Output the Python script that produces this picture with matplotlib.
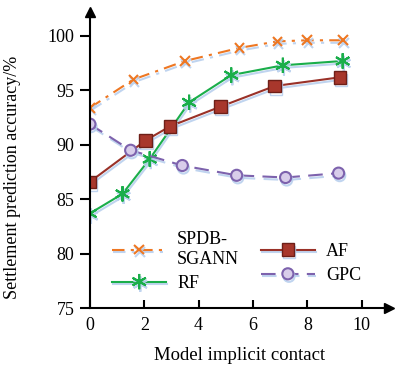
import matplotlib
matplotlib.use('Agg')
import matplotlib.pyplot as plt
import matplotlib.patheffects as pe

plt.rcParams['font.family'] = ['Liberation Serif', 'DejaVu Serif']

# data
sgann_x = [0, 1.6, 3.5, 5.5, 6.9, 8.0, 9.3]
sgann_y = [93.4, 96.0, 97.7, 98.9, 99.5, 99.6, 99.6]

rf_x = [0, 1.2, 2.2, 3.65, 5.2, 7.1, 9.3]
rf_y = [83.7, 85.5, 88.7, 93.9, 96.4, 97.3, 97.7]

af_x = [0, 2.05, 2.95, 4.8, 6.8, 9.2]
af_y = [86.6, 90.4, 91.7, 93.5, 95.4, 96.2]

gpc_x = [0, 1.5, 3.4, 5.4, 7.2, 9.15]
gpc_y = [91.9, 89.5, 88.1, 87.2, 87.0, 87.4]

x_ticks = [0, 2, 4, 6, 8, 10]
y_ticks = [75, 80, 85, 90, 95, 100]

fig = plt.figure(figsize=(3.96, 3.74), dpi=100)
ax = fig.add_axes([0.227, 0.176, 0.755, 0.792])

shadow = [pe.SimpleLineShadow(offset=(0.8, -1.8), shadow_color='#b9d0ee', alpha=0.9), pe.Normal()]

ax.plot(sgann_x, sgann_y, color='#ee7722', linestyle=(0, (6, 3, 1.5, 3)), lw=1.5,
        marker='x', ms=7, mew=1.5, label='SPDB-\nSGANN', path_effects=shadow)
ax.plot(rf_x, rf_y, color='#1aae4a', lw=1.5, marker=(6, 2, 0), ms=11, mew=1.5,
        label='RF', path_effects=shadow)
ax.plot(af_x, af_y, color='#9a3128', lw=1.5, marker='s', ms=9, mfc='#a8372c',
        mec='#6e1f18', mew=1, label='AF', path_effects=shadow)
ax.plot(gpc_x, gpc_y, color='#7d62ad', linestyle=(0, (7, 4)), lw=1.5, marker='o', ms=8,
        mfc='#d8cdea', mec='#7d62ad', mew=1.5, label='GPC', path_effects=shadow)

ax.set_xlim(0, 11.0)
ax.set_ylim(75, 102.2)
ax.set_xticks(x_ticks)
ax.set_yticks(y_ticks)
ax.spines['top'].set_visible(False)
ax.spines['right'].set_visible(False)
ax.spines['left'].set_linewidth(1.5)
ax.spines['bottom'].set_linewidth(1.5)
ax.tick_params(axis='x', direction='in', length=6, width=1.5, labelsize=13, pad=6)
ax.tick_params(axis='y', direction='out', length=7, width=1.5, labelsize=13, pad=4)

# arrow heads on the axes
ax.plot(1, 0, '>k', ms=7, transform=ax.transAxes, clip_on=False)
ax.plot(0, 1, '^k', ms=7, transform=ax.transAxes, clip_on=False)

ax.set_xlabel('Model implicit contact', fontsize=13.5, labelpad=10)
ax.set_ylabel('Settlement prediction accuracy/%', fontsize=13)
ax.yaxis.set_label_coords(-0.23, 0.44)

h, l = ax.get_legend_handles_labels()
ax.legend(h, l, ncol=2, loc='lower left', bbox_to_anchor=(0.02, 0.0), frameon=False,
          fontsize=13, handlelength=3.0, columnspacing=1.2, labelspacing=0.4,
          handletextpad=0.6)

fig.savefig('out.png', dpi=100)
